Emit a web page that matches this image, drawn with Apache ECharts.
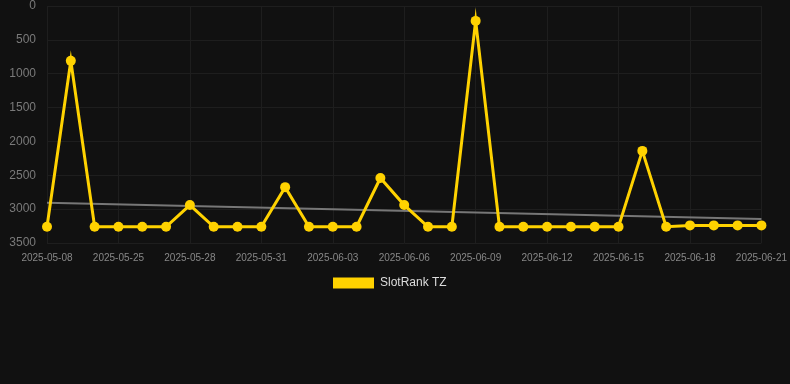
<!DOCTYPE html>
<html>
<head>
<meta charset="utf-8">
<script src="https://cdn.jsdelivr.net/npm/echarts@6/dist/echarts.min.js"></script>
<style>
html,body{margin:0;padding:0;background:#111111;}
#c{width:790px;height:384px;}
</style>
</head>
<body>
<div id="c"></div>
<script>
const dates = ['2025-05-08','2025-05-23','2025-05-24','2025-05-25','2025-05-26','2025-05-27','2025-05-28','2025-05-29','2025-05-30','2025-05-31',
  '2025-06-01','2025-06-02','2025-06-03','2025-06-04','2025-06-05','2025-06-06','2025-06-07','2025-06-08','2025-06-09','2025-06-10',
  '2025-06-11','2025-06-12','2025-06-13','2025-06-14','2025-06-15','2025-06-16','2025-06-17','2025-06-18','2025-06-19','2025-06-20','2025-06-21'];
const ranks = [3260,810,3260,3260,3260,3260,2940,3260,3260,3260,
  2675,3260,3260,3260,2540,2940,3260,3260,220,3260,
  3260,3260,3260,3260,3260,2140,3260,3240,3240,3240,3240];
const seriesName = 'SlotRank TZ';
const yTicks = [0,500,1000,1500,2000,2500,3000,3500];
// trend line end values
const trendStart = 2905;
const trendEnd = 3146;

const trend = ranks.map((v,i)=> i===0 ? trendStart : (i===ranks.length-1 ? trendEnd : null));

const chart = echarts.init(document.getElementById('c'));
chart.setOption({
  backgroundColor:'#111111',
  animation:false,
  grid:{left:47,right:28,top:6,bottom:141,containLabel:false},
  legend:{
    data:[seriesName],
    left:328, top:272,
    itemWidth:41, itemHeight:11, itemGap:10,
    icon:'rect',
    textStyle:{color:'#dddddd',fontSize:12,fontFamily:'Liberation Sans, Arial, sans-serif',padding:[0,0,0,1]}
  },
  xAxis:{
    type:'category',
    data:dates,
    boundaryGap:false,
    axisLine:{show:false},
    axisTick:{show:false},
    axisLabel:{interval:2,color:'#888888',fontSize:10,margin:10,fontFamily:'Liberation Sans, Arial, sans-serif'},
    splitLine:{show:true,interval:2,lineStyle:{color:'#1e1e1e',width:1}}
  },
  yAxis:{
    type:'value',
    inverse:true,
    min:yTicks[0], max:yTicks[yTicks.length-1], interval:500,
    axisLine:{show:false},
    axisTick:{show:false},
    axisLabel:{color:'#7a7a7a',fontSize:12,margin:11,fontFamily:'Liberation Sans, Arial, sans-serif',formatter:(v)=>String(v)},
    splitLine:{show:true,lineStyle:{color:'#1e1e1e',width:1}}
  },
  series:[
    {
      name:'trend',
      type:'line',
      data:trend,
      connectNulls:true,
      symbol:'none',
      lineStyle:{color:'#777777',width:2},
      z:1,
      silent:true
    },
    {
      name:seriesName,
      type:'line',
      data:ranks,
      symbol:'circle',
      symbolSize:10,
      color:'#FFD200',
      itemStyle:{color:'#FFD200'},
      lineStyle:{color:'#FFD200',width:3,join:'miter',miterLimit:12},
      z:2
    }
  ]
});
</script>
</body>
</html>
